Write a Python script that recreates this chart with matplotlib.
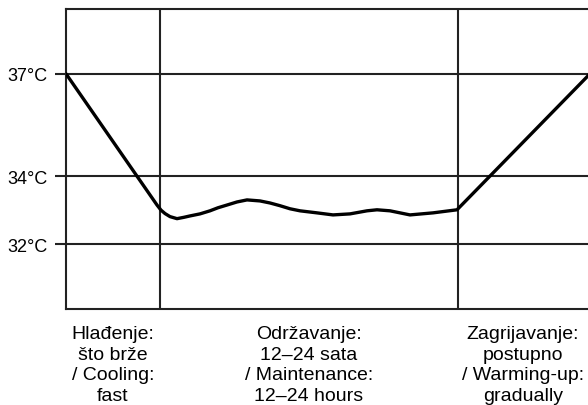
import matplotlib

matplotlib.use('Agg')
import matplotlib.pyplot as plt
import matplotlib.transforms as mtransforms

plt.rcParams['font.family'] = ['Liberation Sans', 'DejaVu Sans']

# time axis in arbitrary units (phase boundaries at 94 and 392, end at 522)
time = [0, 91, 95, 99, 104, 111, 118, 124, 134, 144, 152, 161, 171, 181,
        194, 204, 214, 224, 234, 251, 267, 284, 301, 311, 324, 344, 367,
        391, 424, 524]
temperature = [37.00, 33.15, 33.00, 32.90, 32.81, 32.75, 32.79, 32.83, 32.89,
               32.98, 33.07, 33.15, 33.24, 33.30, 33.27, 33.21, 33.13, 33.04,
               32.98, 32.92, 32.86, 32.89, 32.98, 33.01, 32.98, 32.86, 32.92,
               33.01, 34.00, 37.00]

phase_bounds = [0, 94, 392, 522]
phase_labels = [
    'Hlađenje:\nšto brže\n/ Cooling:\nfast',
    'Održavanje:\n12–24 sata\n/ Maintenance:\n12–24 hours',
    'Zagrijavanje:\npostupno\n/ Warming-up:\ngradually',
]
temp_ticks = [32, 34, 37]
temp_labels = ['32°C', '34°C', '37°C']

line_color = '#222222'

fig = plt.figure(figsize=[5.88, 4.06], dpi=100)
ax = fig.add_axes([66 / 588, 1 - 310 / 406, 522 / 588, 300 / 406])

for t in temp_ticks:
    ax.axhline(t, color=line_color, lw=1.5, zorder=1)
for b in phase_bounds[1:-1]:
    ax.axvline(b, color=line_color, lw=1.5, zorder=1)

ax.plot(time, temperature, color='black', lw=2.4, solid_joinstyle='round',
        solid_capstyle='round', zorder=3)

ax.set_xlim(phase_bounds[0], phase_bounds[-1])
ax.set_ylim(30.1, 38.9)
ax.set_xticks([])
ax.set_yticks(temp_ticks)
ax.set_yticklabels(temp_labels)
ax.tick_params(axis='y', length=8, width=1.5, color=line_color, pad=5,
               labelsize=13)
for side in ['left', 'top', 'bottom']:
    ax.spines[side].set_linewidth(1.5)
    ax.spines[side].set_color(line_color)
ax.spines['right'].set_visible(False)

trans = mtransforms.blended_transform_factory(ax.transData, ax.transAxes)
for i, label in enumerate(phase_labels):
    mid = (phase_bounds[i] + phase_bounds[i + 1]) / 2
    ax.text(mid, -0.053, label, transform=trans, ha='center', va='top',
            fontsize=14, linespacing=1.29)

plt.savefig('out.png', dpi=100)
